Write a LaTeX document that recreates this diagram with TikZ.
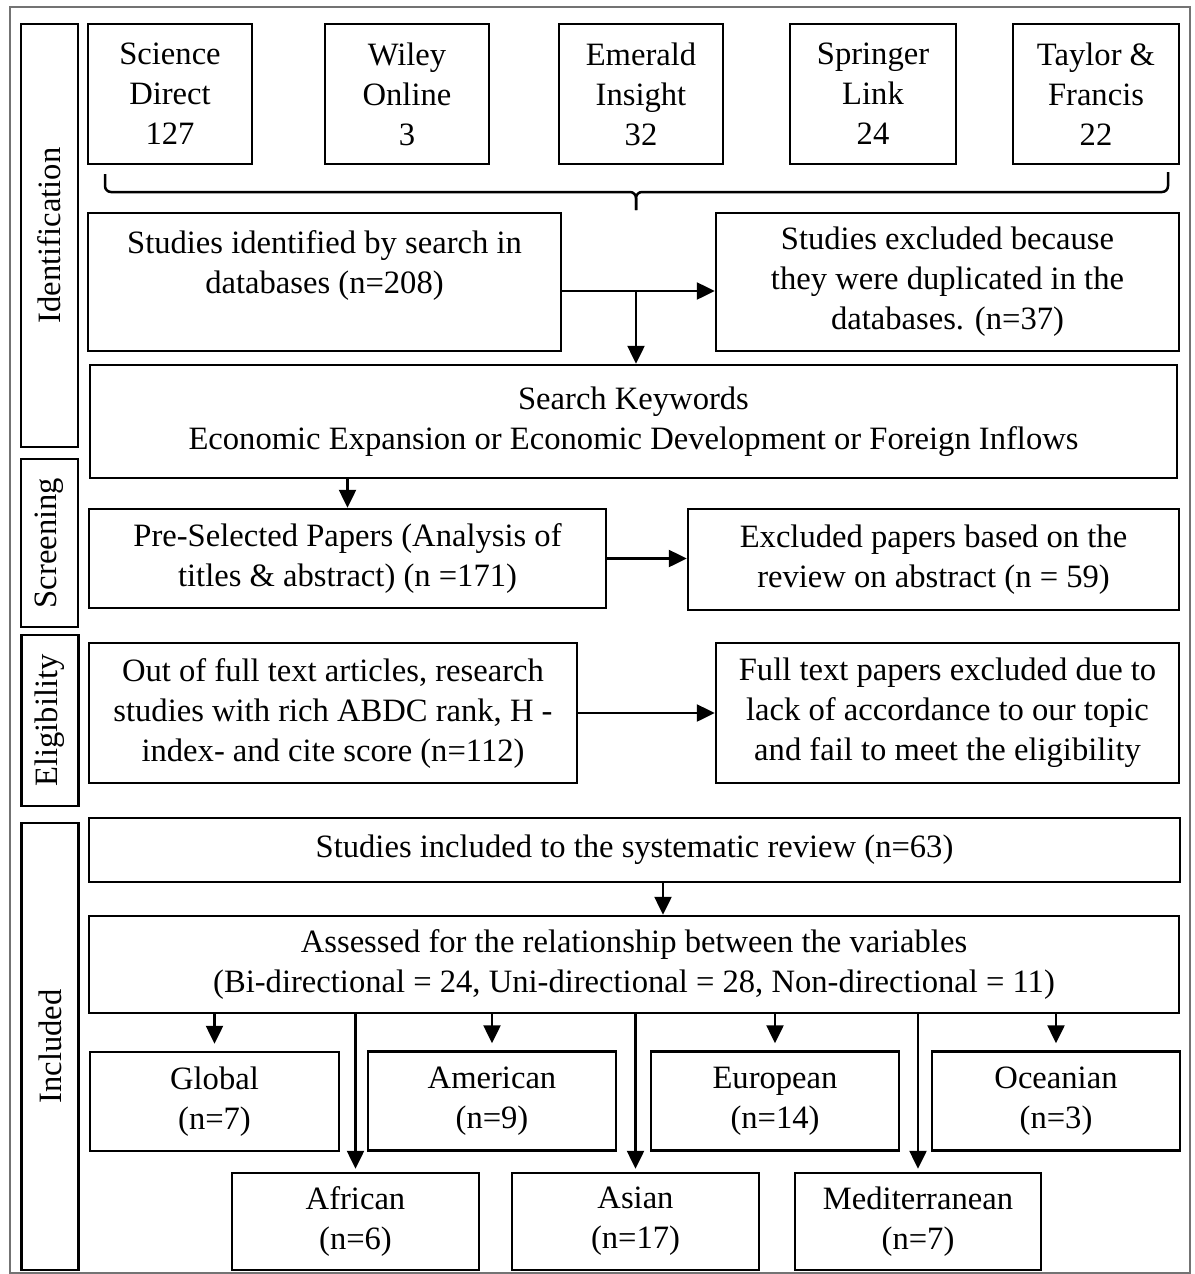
\documentclass[tikz,border=0pt]{standalone}
\usepackage{fontspec}
\setmainfont{Liberation Serif}
\usetikzlibrary{arrows.meta}
\begin{document}
\begin{tikzpicture}[x=1pt,y=-1pt,
  box/.style={draw, line width=2.5pt, inner sep=0pt, align=center, font=\fontsize{32.6}{40}\selectfont},
  side/.style={box, rotate=90},
  arr/.style={line width=2.5pt, -{Triangle[length=18pt,width=17pt]}},
  ln/.style={line width=2.5pt},
]
\useasboundingbox (0,0) rectangle (1194,1274);
\draw[line width=1.4pt, black!55] (10,7) rectangle (1190,1273);

% side labels
\node[side, minimum width=423pt, minimum height=57pt] (sid) at (49.5,235.5) {Identification};
\node[side, minimum width=168pt, minimum height=57pt] (sscr) at (49.5,543) {Screening};
\node[side, minimum width=171pt, minimum height=57pt] (selig) at (50,720.5) {Eligibility};
\node[side, minimum width=447pt, minimum height=57pt] (sinc) at (50,1046.5) {Included};

% databases
\node[box, minimum width=164pt, minimum height=140pt] (sd) at (170,94) {Science\\Direct\\127};
\node[box, minimum width=164pt, minimum height=140pt] (wo) at (407,94) {Wiley\\Online\\3};
\node[box, minimum width=164pt, minimum height=140pt] (ei) at (641,94) {Emerald\\Insight\\32};
\node[box, minimum width=166pt, minimum height=140pt] (sl) at (873,94) {Springer\\Link\\24};
\node[box, minimum width=166pt, minimum height=140pt] (tf) at (1096,94) {Taylor \&\\Francis\\22};

% brace
\coordinate (bl) at (105,174);
\coordinate (br) at (1168,172);
\coordinate (bm) at (636,192);
\coordinate (bt) at (636,210);
\draw[ln, rounded corners=6pt] (bl) |- (bm) -- (bt);
\draw[ln, rounded corners=6pt] (br) |- (bm) -- (bt);

% identification
\node[box, minimum width=473pt, minimum height=138pt, text depth=40pt] (ident) at (324.5,282) {Studies identified by search in\\databases (n=208)};
\node[box, minimum width=463pt, minimum height=138pt] (dup) at (947.5,282) {Studies excluded because\\they were duplicated in the\\databases. (n=37)};
\node[box, minimum width=1087pt, minimum height=113pt] (kw) at (633.5,421.5) {Search Keywords\\Economic Expansion or Economic Development or Foreign Inflows};

\coordinate (j1) at (636,291);
\draw[arr] (ident.east |- j1) -- (dup.west |- j1);
\draw[arr] (j1) -- (j1 |- kw.north);

% screening
\node[box, minimum width=517pt, minimum height=99pt] (pre) at (347.5,558.5) {Pre-Selected Papers (Analysis of\\titles \& abstract) (n =171)};
\node[box, minimum width=491pt, minimum height=101pt] (excl) at (933.5,559.5) {Excluded papers based on the\\review on abstract (n = 59)};
\draw[arr] (pre.north |- kw.south) -- (pre.north);
\draw[arr] (pre.east) -- (pre.east -| excl.west);

% eligibility
\node[box, minimum width=488pt, minimum height=140pt] (full) at (333,713) {Out of full text articles, research\\studies with rich ABDC rank, H -\\index- and cite score (n=112)};
\node[box, minimum width=463pt, minimum height=140pt] (fexc) at (947.5,713) {Full text papers excluded due to\\lack of accordance to our topic\\and fail to meet the eligibility};
\draw[arr] (full.east) -- (full.east -| fexc.west);

% included
\node[box, minimum width=1091pt, minimum height=64pt] (inc) at (634.5,850) {Studies included to the systematic review (n=63)};
\node[box, minimum width=1090pt, minimum height=97pt] (ass) at (634,964.5) {Assessed for the relationship between the variables\\(Bi-directional = 24, Uni-directional = 28, Non-directional = 11)};
\coordinate (j2) at (663,900);
\draw[arr] (inc.south -| j2) -- (ass.north -| j2);

\node[box, minimum width=249pt, minimum height=99pt] (glob) at (214.5,1101.5) {Global\\(n=7)};
\node[box, minimum width=248pt, minimum height=99pt] (amer) at (492,1101) {American\\(n=9)};
\node[box, minimum width=248pt, minimum height=99pt] (eur) at (775,1101) {European\\(n=14)};
\node[box, minimum width=248pt, minimum height=99pt] (oce) at (1056,1101) {Oceanian\\(n=3)};
\node[box, minimum width=247pt, minimum height=97pt] (afr) at (355.5,1221.5) {African\\(n=6)};
\node[box, minimum width=247pt, minimum height=97pt] (asi) at (635.5,1221.5) {Asian\\(n=17)};
\node[box, minimum width=246pt, minimum height=97pt] (med) at (918,1221.5) {Mediterranean\\(n=7)};

\foreach \n in {glob,amer,eur,oce}
  \draw[arr, shorten >=7pt] (ass.south -| \n.north) -- (\n.north);
\foreach \n in {afr,asi,med}
  \draw[arr, shorten >=3pt] (ass.south -| \n.north) -- (\n.north);
\end{tikzpicture}
\end{document}
